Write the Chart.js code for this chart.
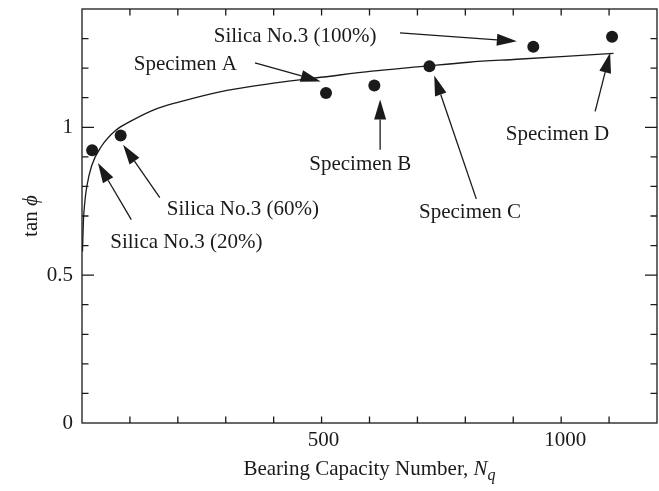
<!DOCTYPE html>
<html>
<head>
<meta charset="UTF-8">
<title>tan phi vs Nq</title>
<script src="https://cdn.jsdelivr.net/npm/chart.js@4.4.0/dist/chart.umd.min.js"></script>
<style>
  body { margin: 0; background: #fff; }
  canvas { display: block; }
</style>
</head>
<body>
<canvas id="canvas" width="659" height="491"></canvas>
<script>
// fitted curve
const curveNq  = [1, 3, 6, 10, 20, 40, 70, 100, 150, 200, 300, 400, 500, 600, 700, 800, 900, 1000, 1100];
const curveTan = [0.58, 0.685, 0.75, 0.80, 0.87, 0.935, 0.99, 1.02, 1.06, 1.085, 1.125, 1.15, 1.17, 1.19, 1.205, 1.22, 1.23, 1.24, 1.25];

// measured specimens
const pointNames = ['Silica No.3 (20%)', 'Silica No.3 (60%)', 'Specimen A', 'Specimen B', 'Specimen C', 'Silica No.3 (100%)', 'Specimen D'];
const pointNq    = [21, 80, 505, 605, 719, 934, 1097];
const pointTan   = [0.922, 0.972, 1.116, 1.141, 1.206, 1.272, 1.306];

// label anchor and arrow tail/tip, in data units (Nq, tan phi)
const labelNq  = [216, 333, 214, 576, 803, 441, 984];
const labelTan = [0.609, 0.722, 1.212, 0.873, 0.711, 1.306, 0.975];
const tailNq   = [102, 161, 358, 617, 816, 658, 1062];
const tailTan  = [0.688, 0.762, 1.218, 0.924, 0.758, 1.319, 1.054];
const tipNq    = [33, 85, 494, 617, 729, 900, 1093];
const tipTan   = [0.879, 0.941, 1.155, 1.094, 1.175, 1.291, 1.252];

const xMajor = [500, 1000];
const yMajor = [0, 0.5, 1];

const FONT = '"Liberation Serif", "Times New Roman", serif';
const INK = '#1a1a1a';

const isMajor = (v, list) => list.some(m => Math.abs(m - v) < 1e-6);

const framePlugin = {
  id: 'frame',
  afterDraw(chart) {
    const ctx = chart.ctx;
    const a = chart.chartArea;
    const xs = chart.scales.x, ys = chart.scales.y;
    ctx.save();
    ctx.strokeStyle = INK;
    ctx.lineWidth = 1.3;
    ctx.strokeRect(a.left, a.top, a.right - a.left, a.bottom - a.top);

    // inward ticks on all four sides
    ctx.beginPath();
    xs.ticks.forEach(t => {
      if (t.value <= xs.min || t.value >= xs.max) return;
      const px = xs.getPixelForValue(t.value);
      const len = isMajor(t.value, xMajor) ? 12 : 6.5;
      ctx.moveTo(px, a.bottom); ctx.lineTo(px, a.bottom - len);
      ctx.moveTo(px, a.top); ctx.lineTo(px, a.top + len);
    });
    ys.ticks.forEach(t => {
      if (t.value <= ys.min + 1e-9 || t.value >= ys.max - 1e-9) return;
      const py = ys.getPixelForValue(t.value);
      const len = isMajor(t.value, yMajor) ? 12 : 6.5;
      ctx.moveTo(a.left, py); ctx.lineTo(a.left + len, py);
      ctx.moveTo(a.right, py); ctx.lineTo(a.right - len, py);
    });
    ctx.stroke();

    ctx.fillStyle = INK;
    ctx.font = '21px ' + FONT;

    // x tick labels
    ctx.textAlign = 'center';
    ctx.textBaseline = 'top';
    xMajor.forEach(v => ctx.fillText(String(v), xs.getPixelForValue(v), a.bottom + 7));

    // annotations
    ctx.textBaseline = 'middle';
    pointNames.forEach((name, i) => {
      ctx.fillText(name, xs.getPixelForValue(labelNq[i]), ys.getPixelForValue(labelTan[i]));
      const x0 = xs.getPixelForValue(tailNq[i]), y0 = ys.getPixelForValue(tailTan[i]);
      const x1 = xs.getPixelForValue(tipNq[i]), y1 = ys.getPixelForValue(tipTan[i]);
      const ang = Math.atan2(y1 - y0, x1 - x0);
      const hl = 20, hw = 6;
      const bx = x1 - hl * Math.cos(ang), by = y1 - hl * Math.sin(ang);
      ctx.beginPath();
      ctx.moveTo(x0, y0); ctx.lineTo(bx, by);
      ctx.lineWidth = 1.3;
      ctx.stroke();
      ctx.beginPath();
      ctx.moveTo(x1, y1);
      ctx.lineTo(bx + hw * Math.sin(ang), by - hw * Math.cos(ang));
      ctx.lineTo(bx - hw * Math.sin(ang), by + hw * Math.cos(ang));
      ctx.closePath();
      ctx.fill();
    });

    // x axis title with italic N and subscript q
    const cx = (a.left + a.right) / 2, ty = 475;
    const p1 = 'Bearing Capacity Number, ';
    ctx.font = '21px ' + FONT;
    const w1 = ctx.measureText(p1).width;
    ctx.font = 'italic 21px ' + FONT;
    const w2 = ctx.measureText('N').width;
    ctx.font = 'italic 16px ' + FONT;
    const w3 = ctx.measureText('q').width;
    const sx = cx - (w1 + w2 + w3) / 2;
    ctx.textAlign = 'left';
    ctx.textBaseline = 'alphabetic';
    ctx.font = '21px ' + FONT;
    ctx.fillText(p1, sx, ty);
    ctx.font = 'italic 21px ' + FONT;
    ctx.fillText('N', sx + w1, ty);
    ctx.font = 'italic 16px ' + FONT;
    ctx.fillText('q', sx + w1 + w2, ty + 5);

    // y axis title
    ctx.translate(31, (a.top + a.bottom) / 2);
    ctx.rotate(-Math.PI / 2);
    ctx.font = '21px ' + FONT;
    const t1 = 'tan ';
    const tw1 = ctx.measureText(t1).width;
    ctx.font = 'italic 21px ' + FONT;
    const tw2 = ctx.measureText('\u03D5').width;
    const ox = -(tw1 + tw2) / 2;
    ctx.textBaseline = 'middle';
    ctx.font = '21px ' + FONT;
    ctx.fillText(t1, ox, 0);
    ctx.font = 'italic 21px ' + FONT;
    ctx.fillText('\u03D5', ox + tw1, 0);
    ctx.restore();
  }
};

const ctx = document.getElementById('canvas').getContext('2d');
new Chart(ctx, {
  type: 'scatter',
  data: {
    datasets: [
      {
        data: curveNq.map((n, i) => ({ x: n, y: curveTan[i] })),
        showLine: true,
        pointRadius: 0,
        borderColor: INK,
        borderWidth: 1.3,
        cubicInterpolationMode: 'monotone'
      },
      {
        data: pointNq.map((n, i) => ({ x: n, y: pointTan[i] })),
        pointRadius: 6,
        pointBackgroundColor: INK,
        pointBorderWidth: 0
      }
    ]
  },
  options: {
    responsive: false,
    animation: false,
    layout: { autoPadding: false, padding: { top: 9, right: 2, left: 0, bottom: 0 } },
    plugins: { legend: { display: false }, tooltip: { enabled: false } },
    scales: {
      x: {
        type: 'linear', min: 0, max: 1190,
        grid: { display: false, drawTicks: false },
        border: { display: false },
        ticks: { stepSize: 100, autoSkip: false, maxTicksLimit: 20, display: false },
        afterFit: s => { s.height = 68; s.paddingLeft = 0; s.paddingRight = 0; }
      },
      y: {
        min: 0, max: 1.4,
        grid: { display: false, drawTicks: false },
        border: { display: false },
        ticks: {
          stepSize: 0.1, autoSkip: false, padding: 9, maxTicksLimit: 20,
          color: INK, font: { family: FONT, size: 21 },
          callback: v => isMajor(v, yMajor) ? String(Math.round(v * 10) / 10) : ''
        },
        afterFit: s => { s.width = 82; s.paddingTop = 0; s.paddingBottom = 0; }
      }
    }
  },
  plugins: [framePlugin]
});
</script>
</body>
</html>
